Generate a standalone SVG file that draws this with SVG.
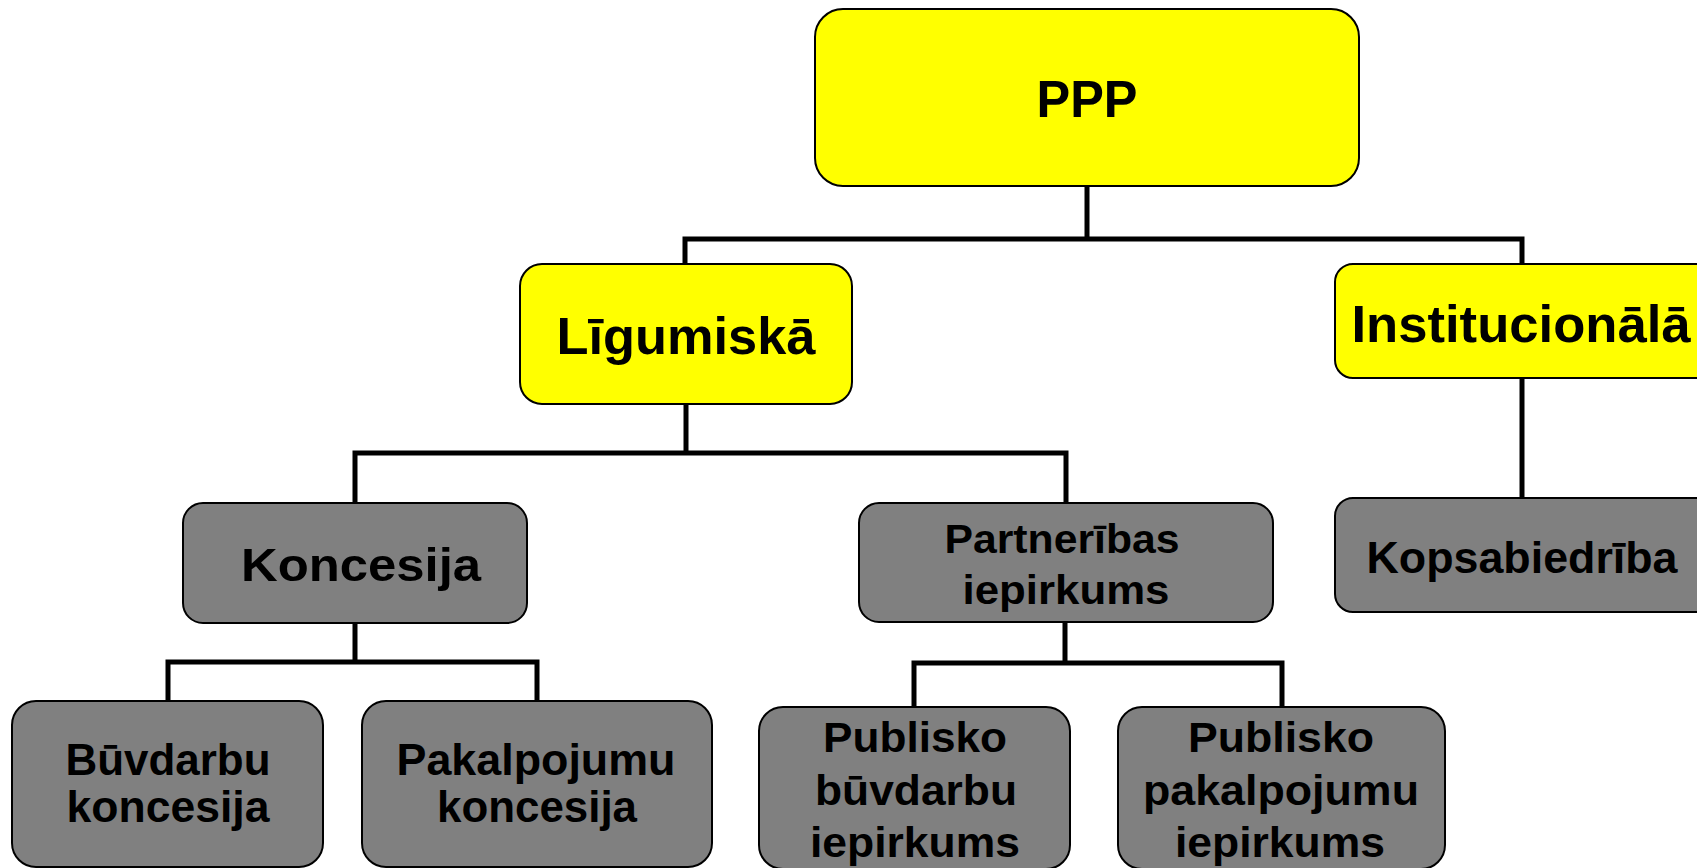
<svg xmlns="http://www.w3.org/2000/svg" width="1697" height="868" viewBox="0 0 1697 868">
<style>
.y{fill:#FFFF00;stroke:#000;stroke-width:2}
.g{fill:#808080;stroke:#000;stroke-width:2}
.t{font-family:"Liberation Sans",Arial,sans-serif;font-weight:bold;fill:#000;text-anchor:middle}
.c{fill:none;stroke:#000;stroke-width:5;stroke-linecap:square}
</style>
<rect width="1697" height="868" fill="#fff"/>
<g id="connectors">
<path class="c" d="M1087 186V239M685 239H1522M685 239V264M1522 239V264"/>
<path class="c" d="M686 404V453M355 453H1066M355 453V503M1066 453V503"/>
<path class="c" d="M1522 378V498"/>
<path class="c" d="M355 623V662M168 662H537M168 662V701M537 662V701"/>
<path class="c" d="M1065 622V663M914 663H1282M914 663V707M1282 663V707"/>
</g>
<g id="ppp">
<rect class="y" x="815" y="9" width="544" height="177" rx="28"/>
<text class="t" x="1087" y="117" font-size="51" textLength="101" lengthAdjust="spacingAndGlyphs">PPP</text>
</g>
<g id="ligumiska">
<rect class="y" x="520" y="264" width="332" height="140" rx="22"/>
<text class="t" x="686" y="354" font-size="52" textLength="259" lengthAdjust="spacingAndGlyphs">Līgumiskā</text>
</g>
<g id="institucionala">
<rect class="y" x="1335" y="264" width="380" height="114" rx="18"/>
<text class="t" x="1521" y="342" font-size="52" textLength="339" lengthAdjust="spacingAndGlyphs">Institucionālā</text>
</g>
<g id="koncesija">
<rect class="g" x="183" y="503" width="344" height="120" rx="20"/>
<text class="t" x="361" y="581" font-size="46" textLength="240" lengthAdjust="spacingAndGlyphs">Koncesija</text>
</g>
<g id="partneribas">
<rect class="g" x="859" y="503" width="414" height="119" rx="20"/>
<text class="t" x="1062" y="553" font-size="41" textLength="235" lengthAdjust="spacingAndGlyphs">Partnerības</text>
<text class="t" x="1066" y="604" font-size="41" textLength="207" lengthAdjust="spacingAndGlyphs">iepirkums</text>
</g>
<g id="kopsabiedriba">
<rect class="g" x="1335" y="498" width="380" height="114" rx="18"/>
<text class="t" x="1522" y="573" font-size="45" textLength="311" lengthAdjust="spacingAndGlyphs">Kopsabiedrība</text>
</g>
<g id="buvdarbu-koncesija">
<rect class="g" x="12" y="701" width="311" height="166" rx="24"/>
<text class="t" x="168" y="775" font-size="45" textLength="205" lengthAdjust="spacingAndGlyphs">Būvdarbu</text>
<text class="t" x="168" y="822" font-size="45" textLength="203" lengthAdjust="spacingAndGlyphs">koncesija</text>
</g>
<g id="pakalpojumu-koncesija">
<rect class="g" x="362" y="701" width="350" height="166" rx="24"/>
<text class="t" x="536" y="775" font-size="45" textLength="279" lengthAdjust="spacingAndGlyphs">Pakalpojumu</text>
<text class="t" x="537" y="822" font-size="45" textLength="200" lengthAdjust="spacingAndGlyphs">koncesija</text>
</g>
<g id="publisko-buvdarbu">
<rect class="g" x="759" y="707" width="311" height="162" rx="24"/>
<text class="t" x="915" y="752" font-size="42" textLength="184" lengthAdjust="spacingAndGlyphs">Publisko</text>
<text class="t" x="916" y="805" font-size="42" textLength="202" lengthAdjust="spacingAndGlyphs">būvdarbu</text>
<text class="t" x="915" y="857" font-size="42" textLength="210" lengthAdjust="spacingAndGlyphs">iepirkums</text>
</g>
<g id="publisko-pakalpojumu">
<rect class="g" x="1118" y="707" width="327" height="162" rx="24"/>
<text class="t" x="1281" y="752" font-size="42" textLength="186" lengthAdjust="spacingAndGlyphs">Publisko</text>
<text class="t" x="1281" y="805" font-size="42" textLength="276" lengthAdjust="spacingAndGlyphs">pakalpojumu</text>
<text class="t" x="1280" y="857" font-size="42" textLength="210" lengthAdjust="spacingAndGlyphs">iepirkums</text>
</g>
</svg>
